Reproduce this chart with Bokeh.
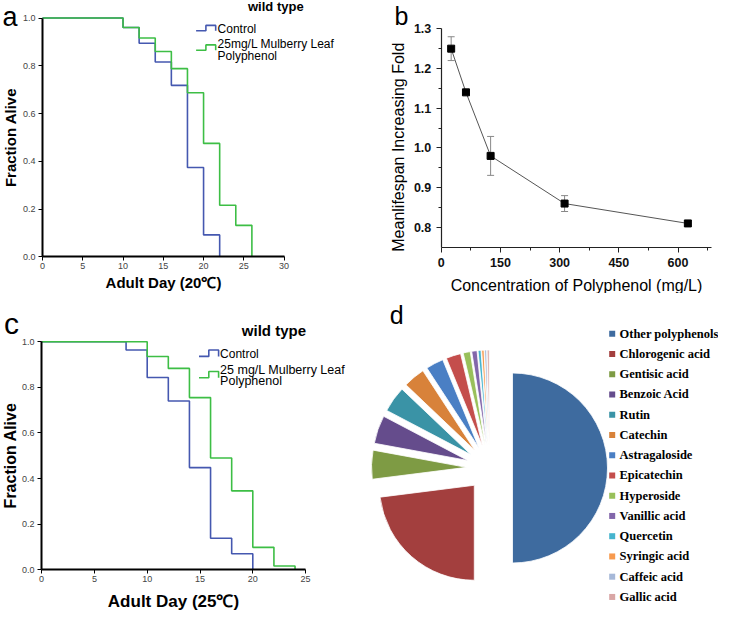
import numpy as np
from bokeh.plotting import figure
from bokeh.models import (Range1d, FixedTicker, PrintfTickFormatter, Label,
                          Whisker, TeeHead, ColumnDataSource)
from bokeh.core.properties import value
from bokeh.layouts import column, row
from bokeh.embed import file_html
from bokeh.resources import INLINE

# ---------------- data ----------------
# panel a : survival at 20 C
a_days_ctrl = [0, 10, 12, 14, 16, 18, 20, 22]
a_surv_ctrl = [1.0, 0.96, 0.894, 0.816, 0.718, 0.374, 0.092, 0.0]
a_days_mlp = [0, 10, 12, 14, 16, 18, 20, 22, 24, 26]
a_surv_mlp = [1.0, 0.96, 0.916, 0.86, 0.788, 0.687, 0.475, 0.216, 0.132, 0.0]
a_x_ticks = [0, 5, 10, 15, 20, 25, 30]

# panel c : survival at 25 C
c_days_ctrl = [0, 8, 10, 12, 14, 16, 18, 20]
c_surv_ctrl = [1.0, 0.964, 0.843, 0.74, 0.448, 0.138, 0.07, 0.0]
c_days_mlp = [0, 10, 12, 14, 16, 18, 20, 22, 24]
c_surv_mlp = [1.0, 0.935, 0.883, 0.755, 0.49, 0.346, 0.098, 0.016, 0.0]
c_x_ticks = [0, 5, 10, 15, 20, 25]

surv_y_ticks = [0.0, 0.2, 0.4, 0.6, 0.8, 1.0]

# panel b : dose response
conc = [25, 62.5, 125, 312.5, 625]
fold = [1.25, 1.14, 0.98, 0.86, 0.81]
fold_err = [0.03, 0.006, 0.049, 0.02, 0.007]
b_x_ticks = [0, 150, 300, 450, 600]
b_x_minor = [75, 225, 375, 525, 675]
b_y_ticks = [0.8, 0.9, 1.0, 1.1, 1.2, 1.3]
b_y_minor = [0.85, 0.95, 1.05, 1.15, 1.25]

# panel d : composition
compounds = ["Other polyphenols", "Chlorogenic acid", "Gentisic acid", "Benzoic Acid",
             "Rutin", "Catechin", "Astragaloside", "Epicatechin", "Hyperoside",
             "Vanillic acid", "Quercetin", "Syringic acid", "Caffeic acid", "Gallic acid"]
shares = [50.0, 23.0, 4.9, 4.8, 4.4, 3.7, 3.0, 2.5, 1.2, 0.9, 0.5, 0.4, 0.35, 0.35]
pie_colors = ["#3E6B9F", "#A33F3E", "#7E9B44", "#654C8C", "#3A93A6", "#D8823A",
              "#4A7FC4", "#C44E4C", "#99C05A", "#8266AA", "#46B4CE", "#F79A4E",
              "#A6B8D8", "#D9A6A5"]

BLUE = "#4558B0"
GREEN = "#3DBE45"
SANS = "Liberation Sans"


def make_map(lxa, xa, lxb, xb, lya, ya, lyb, yb):
    sx = (xb - xa) / (lxb - lxa)
    sy = (yb - ya) / (lyb - lya)
    def conv(lx, ly):
        return (xa + (lx - lxa) * sx, ya + (ly - lya) * sy)
    return conv


def base_figure(W, H, conv):
    x0, y1 = conv(0, 0)
    x1, y0 = conv(W, H)
    p = figure(width=W, height=H, x_range=Range1d(x0, x1), y_range=Range1d(y0, y1),
               output_backend="svg", toolbar_location=None, min_border=0)
    p.xgrid.visible = False
    p.ygrid.visible = False
    p.outline_line_color = None
    return p


def add_label(p, conv, lx, ly, text, size, style="normal", align="left",
              font=SANS, color="black", angle=0.0, centered=False):
    """ly is the text baseline (or the text centre when centered=True)."""
    if not centered:
        ly = ly - 0.35 * size
    x, y = conv(lx, ly)
    p.add_layout(Label(x=x, y=y, text=text, text_font=font, text_font_size=f"{size}px",
                       text_font_style=style, text_align=align, text_baseline="middle",
                       text_color=color, angle=angle))


def survival_panel(W, H, conv, xmax, xticks, dc, sc, dm, sm,
                   xlabel, xlab_size, ylab_size, ystand, xstand):
    p = base_figure(W, H, conv)
    p.xaxis.ticker = FixedTicker(ticks=xticks)
    p.yaxis.ticker = FixedTicker(ticks=surv_y_ticks)
    p.yaxis.formatter = PrintfTickFormatter(format="%.1f")
    p.xaxis.bounds = (0, xmax)
    p.yaxis.bounds = (0, 1)
    p.xaxis.fixed_location = 0
    p.yaxis.fixed_location = 0
    for ax in (p.xaxis[0], p.yaxis[0]):
        ax.axis_line_width = 2
        ax.axis_line_color = "black"
        ax.major_tick_out = 4
        ax.major_tick_in = 0
        ax.minor_tick_out = 0
        ax.minor_tick_in = 0
        ax.major_tick_line_color = "black"
        ax.major_label_text_font = SANS
        ax.major_label_text_font_size = "9px"
        ax.major_label_text_color = "#444444"
        ax.major_label_standoff = 3
        ax.axis_label_text_font = SANS
        ax.axis_label_text_font_style = "bold"
        ax.axis_label_text_color = "black"
    p.xaxis.major_label_standoff = 2
    p.xaxis.axis_label = xlabel
    p.xaxis.axis_label_text_font_size = xlab_size
    p.xaxis.axis_label_standoff = xstand
    p.yaxis.axis_label = "Fraction Alive"
    p.yaxis.axis_label_text_font_size = ylab_size
    p.yaxis.axis_label_standoff = ystand
    p.step(dc, sc, mode="after", line_color=BLUE, line_width=1.6)
    p.step(dm, sm, mode="after", line_color=GREEN, line_width=1.6)
    return p


# ---------------- panel a ----------------
ca = make_map(42.0, 0, 283.6, 30, 256.4, 0.0, 17.5, 1.0)
pa = survival_panel(362, 293, ca, 30, a_x_ticks,
                    a_days_ctrl, a_surv_ctrl, a_days_mlp, a_surv_mlp,
                    "Adult Day (20\u2103)", "15px", "15px", 1, 2)
add_label(pa, ca, 2.0, 26.0, "a", 27)
add_label(pa, ca, 275.3, 10.7, "wild type", 13, style="bold", align="center")
xs_i = [ca(lx, 0)[0] for lx in (195.6, 205.4, 205.4, 215.2, 215.2)]
pa.line(xs_i, [ca(0, ly)[1] for ly in (30.2, 30.2, 24.9, 24.9, 30.2)],
        line_color=BLUE, line_width=1.6)
pa.line(xs_i, [ca(0, ly)[1] for ly in (49.7, 49.7, 44.4, 44.4, 49.7)],
        line_color=GREEN, line_width=1.6)
add_label(pa, ca, 217.1, 32.2, "Control", 12)
add_label(pa, ca, 217.1, 47.8, "25mg/L  Mulberry Leaf", 12)
add_label(pa, ca, 217.1, 59.5, "Polyphenol", 12)

# ---------------- panel c ----------------
cc = make_map(41.1, 0, 305.1, 25, 276.2, 0.0, 48.25, 1.0)
pc = survival_panel(362, 320, cc, 25, c_x_ticks,
                    c_days_ctrl, c_surv_ctrl, c_days_mlp, c_surv_mlp,
                    "Adult Day (25\u2103)", "17px", "16px", 0, 7)
add_label(pc, cc, 3.5, 40.5, "c", 30)
add_label(pc, cc, 273.4, 42.4, "wild type", 15, style="bold", align="center")
xs_i = [cc(lx, 0)[0] for lx in (198.5, 208.3, 208.3, 218.1, 218.1)]
pc.line(xs_i, [cc(0, ly)[1] for ly in (62.9, 62.9, 56.5, 56.5, 62.9)],
        line_color=BLUE, line_width=1.6)
pc.line(xs_i, [cc(0, ly)[1] for ly in (84.3, 84.3, 78.0, 78.0, 84.3)],
        line_color=GREEN, line_width=1.6)
add_label(pc, cc, 219.6, 64.5, "Control", 12)
add_label(pc, cc, 219.6, 80.7, "25 mg/L Mulberry Leaf", 12.5)
add_label(pc, cc, 219.6, 91.4, "Polyphenol", 12.5)

# ---------------- panel b ----------------
cb = make_map(78.8, 0, 315.5, 600, 28.3, 1.3, 226.9, 0.8)
pb = base_figure(356, 293, cb)
pb.xaxis.ticker = FixedTicker(ticks=b_x_ticks, minor_ticks=b_x_minor)
pb.yaxis.ticker = FixedTicker(ticks=b_y_ticks, minor_ticks=b_y_minor)
pb.yaxis.formatter = PrintfTickFormatter(format="%.1f")
pb.xaxis.bounds = (0, 685)
pb.yaxis.bounds = (0.75, 1.3)
pb.xaxis.fixed_location = 0.75
pb.yaxis.fixed_location = 0
for ax in (pb.xaxis[0], pb.yaxis[0]):
    ax.axis_line_color = "#222222"
    ax.axis_line_width = 1.2
    ax.major_tick_out = 5
    ax.major_tick_in = 0
    ax.minor_tick_out = 3
    ax.minor_tick_in = 0
    ax.major_tick_line_color = "#222222"
    ax.minor_tick_line_color = "#222222"
    ax.major_label_text_font = SANS
    ax.major_label_text_font_size = "12.5px"
    ax.major_label_text_font_style = "bold"
    ax.major_label_text_color = "#111111"
    ax.axis_label_text_font = SANS
    ax.axis_label_text_font_size = "16px"
    ax.axis_label_text_font_style = "normal"
    ax.axis_label_text_color = "black"
pb.xaxis.major_label_standoff = 6
pb.yaxis.major_label_standoff = 5
pb.xaxis.axis_label = "Concentration of Polyphenol (mg/L)"
pb.xaxis.axis_label_standoff = 6
add_label(pb, cb, 36.0, 146.7, "Meanlifespan Increasing Fold", 16, align="center",
          angle=np.pi / 2, centered=True)

bsrc = ColumnDataSource(dict(x=conc, y=fold,
                             upper=[f + e for f, e in zip(fold, fold_err)],
                             lower=[f - e for f, e in zip(fold, fold_err)]))
pb.line("x", "y", source=bsrc, line_color="#555555", line_width=1)
pb.add_layout(Whisker(base="x", upper="upper", lower="lower", source=bsrc,
                      line_color="#888888", line_width=1,
                      upper_head=TeeHead(size=7, line_color="#888888", line_width=1),
                      lower_head=TeeHead(size=7, line_color="#888888", line_width=1)))
pb.scatter("x", "y", source=bsrc, marker="square", size=7, fill_color="black",
           line_color="black")
add_label(pb, cb, 32.1, 24.4, "b", 25)

# ---------------- panel d ----------------
W_D, H_D = 356, 320
cd = make_map(0, 0, W_D, W_D, H_D, 0, 0, H_D)
pd_ = base_figure(W_D, H_D, cd)
pd_.xaxis.visible = False
pd_.yaxis.visible = False

frac = np.array(shares) / np.sum(shares)
cum = np.cumsum(frac)
ang_hi = np.pi / 2 - 2 * np.pi * (cum - frac)
ang_lo = np.pi / 2 - 2 * np.pi * cum
mid = (ang_hi + ang_lo) / 2
CX, CY, R, EXPL = 127.0, H_D - 174.5, 95.0, 23.0
dsrc = ColumnDataSource(dict(x=CX + EXPL * np.cos(mid), y=CY + EXPL * np.sin(mid),
                             start=ang_lo, end=ang_hi, color=pie_colors, name=compounds))
pd_.wedge(x="x", y="y", radius=R, start_angle="start", end_angle="end",
          fill_color="color", line_color="white", line_width=0.8, source=dsrc)

leg_y = [H_D - (40.2 + 20.25 * i) for i in range(len(compounds))]
lsrc = ColumnDataSource(dict(x=[249.7] * len(compounds), tx=[257.0] * len(compounds),
                             y=leg_y, color=pie_colors, name=compounds))
pd_.scatter("x", "y", source=lsrc, marker="square", size=6, fill_color="color",
            line_color=None)
pd_.text("tx", "y", text="name", source=lsrc, text_font=value("Liberation Serif"),
         text_font_style="bold", text_font_size="12.5px", text_baseline="middle",
         text_color="black")
add_label(pd_, cd, 27.2, 30.7, "d", 25)

layout = column(row(pa, pb), row(pc, pd_))
open("out.html", "w").write(file_html(layout, INLINE))
